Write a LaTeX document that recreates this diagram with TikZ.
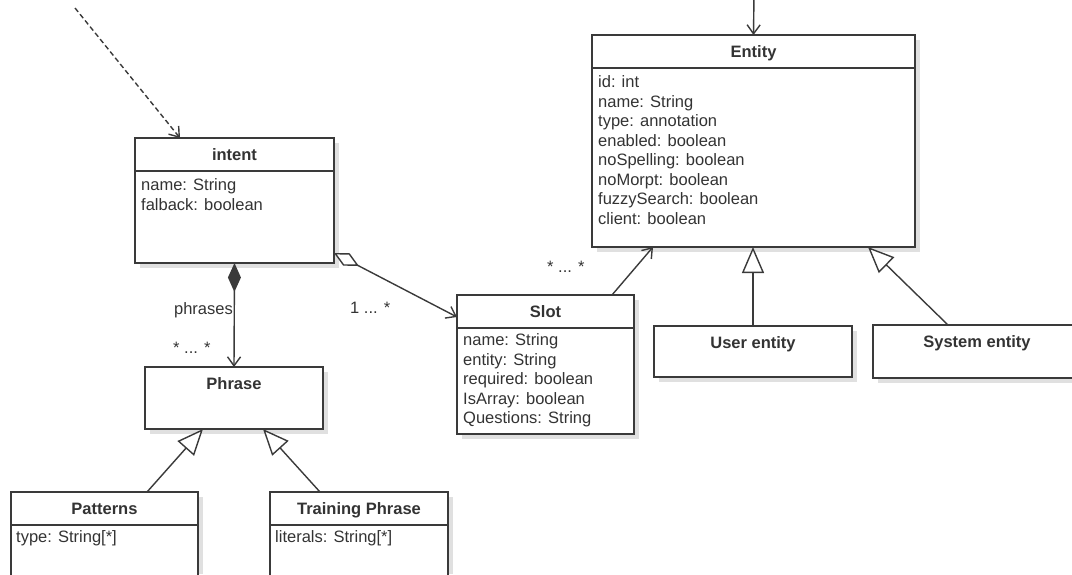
\documentclass[tikz,border=0pt]{standalone}
\usepackage{fontspec}
\setmainfont{Liberation Sans}
\usetikzlibrary{arrows.meta,calc,backgrounds}
\definecolor{ink}{HTML}{333333}
\definecolor{edge}{HTML}{3A3A3A}
\definecolor{shade}{HTML}{E0E0E0}
\begin{document}
\begin{tikzpicture}[x=1pt,y=-1pt,
  classbox/.style={draw=edge, line width=1.4pt, fill=white, rectangle, anchor=north west,
    inner sep=0pt, outer sep=0pt},
  boxshadow/.style={fill=shade, draw=none},
  title/.style={font=\fontsize{16.5}{19.5}\selectfont\bfseries, text=ink, anchor=base, inner sep=0pt},
  attrs/.style={font=\fontsize{16.5}{19.5}\selectfont, text=ink, anchor=north west, align=left, inner sep=0pt},
  lbl/.style={font=\fontsize{16.5}{19.5}\selectfont, text=ink, inner sep=0pt},
  conn/.style={draw=edge, line width=1.4pt},
  divider/.style={draw=edge, line width=1.4pt},
  openhead/.tip={Straight Barb[length=9pt,width=13pt]},
  assoc/.style={conn, -openhead},
  inherit/.style={conn, -{Triangle[open,fill=white,length=26pt,width=22pt]}},
]
\useasboundingbox (0,0) rectangle (1072,574);

% ---- soft drop shadows, drawn first so the boxes cover them ----
\fill[boxshadow] (140,143) rectangle (339,268);
\fill[boxshadow] (597,40)  rectangle (920,252);
\fill[boxshadow] (462,300) rectangle (639,439);
\fill[boxshadow] (150,372) rectangle (328,434);
\fill[boxshadow] (16,497)  rectangle (203,574);
\fill[boxshadow] (275,497) rectangle (453,574);
\fill[boxshadow] (659,331) rectangle (857,382);
\fill[boxshadow] (878,330) rectangle (1072,383);

\begin{scope}
\clip (0,0) rectangle (1072,574);
% ---- class boxes ----
\node[classbox, minimum width=199pt, minimum height=125pt] (intent)   at (135,138) {};
\node[classbox, minimum width=323pt, minimum height=212pt] (Entity)   at (592,35)  {};
\node[classbox, minimum width=177pt, minimum height=139pt] (Slot)     at (457,295) {};
\node[classbox, minimum width=178pt, minimum height=62pt]  (Phrase)   at (145,367) {};
\node[classbox, minimum width=187pt, minimum height=120pt] (Patterns) at (11,492)  {};
\node[classbox, minimum width=178pt, minimum height=120pt] (Training) at (270,492) {};
\node[classbox, minimum width=198pt, minimum height=51pt]  (User)     at (654,326) {};
\node[classbox, minimum width=208pt, minimum height=53pt]  (System)   at (873,325) {};

% ---- header dividers ----
\foreach \c in {intent,Entity,Slot,Patterns,Training}
  \draw[divider] ($(\c.north west)+(0,33)$) -- ($(\c.north east)+(0,33)$);

% ---- titles ----
\node[title] (intentTitle)   at ($(intent.north)+(0,22)$)   {intent};
\node[title] (EntityTitle)   at ($(Entity.north)+(0,22)$)   {Entity};
\node[title] (SlotTitle)     at ($(Slot.north)+(0,22)$)     {Slot};
\node[title] (PhraseTitle)   at ($(Phrase.north)+(0,22)$)   {Phrase};
\node[title] (PatternsTitle) at ($(Patterns.north)+(0,22)$) {Patterns};
\node[title] (TrainingTitle) at ($(Training.north)+(0,22)$) {Training Phrase};
\node[title] (UserTitle)     at ($(User.north)+(0,22)$)     {User entity};
\node[title] (SystemTitle)   at ($(System.north)+(0,22)$)   {System entity};

% ---- attributes ----
\node[attrs] (intentAttrs) at ($(intent.north west)+(6,39)$)
  {\strut name: String\\falback: boolean};
\node[attrs] (EntityAttrs) at ($(Entity.north west)+(6,39)$)
  {\strut id: int\\name: String\\type: annotation\\enabled: boolean\\noSpelling: boolean\\noMorpt: boolean\\fuzzySearch: boolean\\client: boolean};
\node[attrs] (SlotAttrs) at ($(Slot.north west)+(6,37)$)
  {\strut name: String\\entity: String\\required: boolean\\IsArray: boolean\\Questions: String};
\node[attrs] (PatternsAttrs) at ($(Patterns.north west)+(5,37)$)
  {\strut type: String[*]};
\node[attrs] (TrainingAttrs) at ($(Training.north west)+(5,37)$)
  {\strut literals: String[*]};

% ---- incoming references ----
\coordinate (intentSrc) at (75,8);
\draw[conn, line width=1.4pt, dash pattern=on 5pt off 3pt, -openhead]
  (intentSrc) -- ($(intent.north west)+(45,0)$);
\coordinate (EntitySrc) at (754,-5);
\draw[assoc] (EntitySrc) -- (Entity.north);

% ---- composition: intent -> Phrase ----
\draw[conn, {Diamond[length=29pt,width=13pt]}-openhead] (intent.south) -- (Phrase.north);
\node[lbl, anchor=base east] (phrasesLbl) at (233,314) {phrases};
\node[lbl, anchor=base west] (phraseMult) at (173,353) {* ... *};

% ---- aggregation: intent -> Slot ----
\draw[conn, {Diamond[open,fill=white,length=28pt,width=14pt]}-openhead]
  ($(intent.south east)+(0,-10)$) -- ($(Slot.north west)+(0,22)$);
\node[lbl, anchor=base west] (slotMult) at (350,313) {1 ... *};

% ---- association: Slot -> Entity ----
\draw[assoc] ($(Slot.north west)+(155,0)$) -- ($(Entity.south west)+(61,0)$);
\node[lbl, anchor=base west] (entityMult) at (547,272) {* ... *};

% ---- generalizations ----
\draw[inherit] (User.north) -- ($(Entity.south west)+(161,0)$);
\draw[inherit] ($(System.north west)+(75,0)$) -- ($(Entity.south west)+(276,0)$);
\draw[inherit] ($(Patterns.north west)+(136,0)$) -- ($(Phrase.south west)+(58,0)$);
\draw[inherit] ($(Training.north west)+(50,0)$) -- ($(Phrase.south west)+(118,0)$);
\end{scope}
\end{tikzpicture}
\end{document}
